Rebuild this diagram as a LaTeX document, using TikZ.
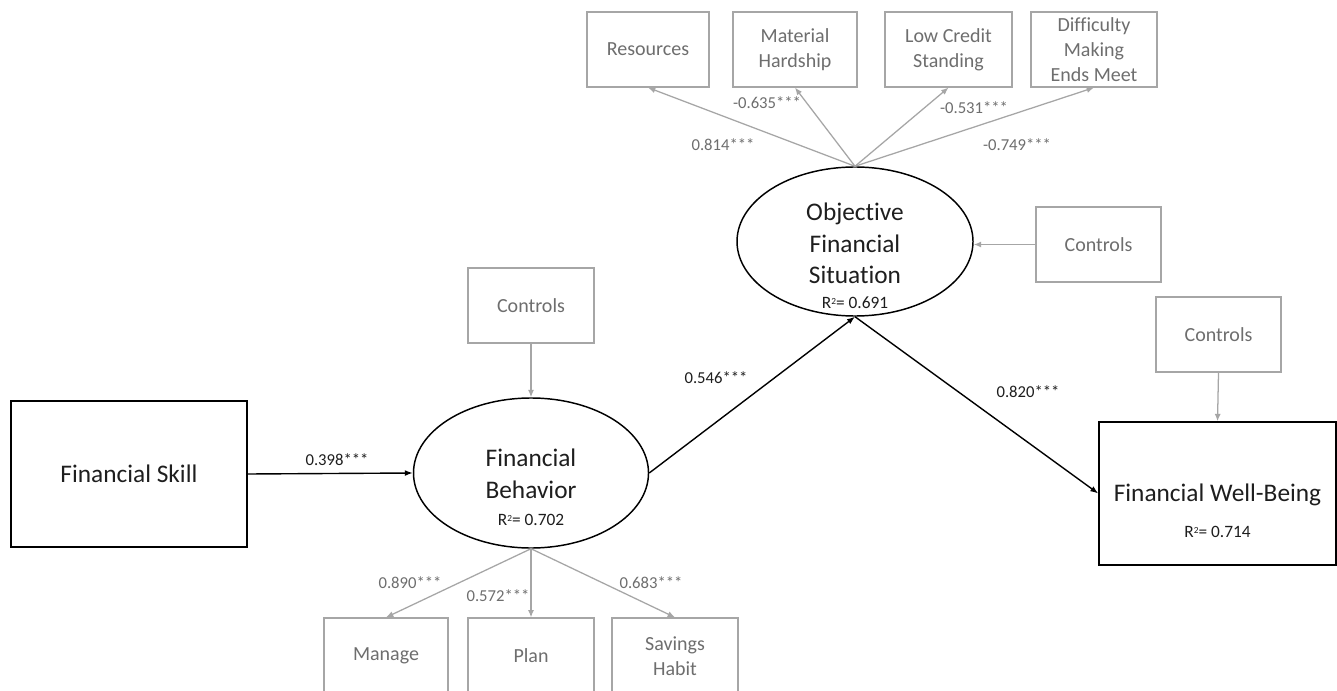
\documentclass[tikz,border=0pt]{standalone}
\usepackage{fontspec}
\setmainfont{Carlito}[Ligatures=NoCommon]
\usetikzlibrary{arrows.meta,shapes.geometric}
\definecolor{lg}{HTML}{A6A6A6}
\definecolor{gt}{HTML}{6E6E6E}
\definecolor{dk}{HTML}{1E1E1E}
\newcommand{\rsq}{R\raisebox{0.55ex}{\fontsize{7}{7}\selectfont 2}}
\begin{document}
\begin{tikzpicture}[x=0.75pt,y=-0.75pt,
  blackbox/.style={draw=black,line width=1.1pt,inner sep=0pt,rectangle,text=dk,align=center},
  graybox/.style={draw=lg,line width=0.9pt,inner sep=0pt,rectangle,text=gt,align=center,
     minimum height=56.25pt,font=\fontsize{15}{19}\selectfont},
  latent/.style={ellipse,draw=black,line width=1.1pt,inner sep=0pt},
  bigtext/.style={text=dk,font=\fontsize{19}{23}\selectfont},
  rtext/.style={text=dk,font=\fontsize{13}{15}\selectfont},
  coefb/.style={text=dk,font=\fontsize{12.5}{15}\selectfont},
  coefg/.style={text=gt,font=\fontsize{12.5}{15}\selectfont},
  barrow/.style={draw=black,line width=1.05pt,-{Latex[length=6pt,width=4.5pt]}},
  garrow/.style={draw=lg,line width=0.95pt,-{Latex[length=5.5pt,width=4.5pt]}}
]
\useasboundingbox (0,0) rectangle (1337,691);
\clip (0,0) rectangle (1337,691);
\fill[white] (0,0) rectangle (1337,691);

% main constructs
\node[blackbox,minimum width=177pt,minimum height=109.5pt,font=\fontsize{19}{23}\selectfont] (skill) at (129,474) {Financial Skill};
\node[latent,minimum width=176.25pt,minimum height=112.5pt] (fb) at (531,473) {};
\node[bigtext] (fbt1) at (531,458) {Financial};
\node[bigtext] (fbt2) at (531,490) {Behavior};
\node[rtext] (fbr) at (531,520) {\rsq= 0.702};

\node[latent,minimum width=177pt,minimum height=111.75pt] (ofs) at (855,241.5) {};
\node[bigtext] (ofst1) at (855,214) {Objective};
\node[bigtext] (ofst2) at (855,244) {Financial};
\node[bigtext] (ofst3) at (855,275) {Situation};
\node[rtext] (ofsr) at (855,303) {\rsq= 0.691};

\node[blackbox,minimum width=177.75pt,minimum height=107.25pt] (fwb) at (1217.5,493.5) {};
\node[bigtext] (fwbt) at (1217.5,495) {Financial Well-Being};
\node[rtext] (fwbr) at (1217.5,532) {\rsq= 0.714};

% controls
\node[graybox,minimum width=94.5pt] (c1) at (531,305.5) {Controls};
\node[graybox,minimum width=93.75pt] (c2) at (1098.5,244.5) {Controls};
\node[graybox,minimum width=93.75pt] (c3) at (1218.5,334.5) {Controls};

% indicators of objective financial situation
\node[graybox,minimum width=91.5pt] (res) at (648,49.5) {Resources};
\node[graybox,minimum width=93pt] (mh) at (795,49.5) {Material\\Hardship};
\node[graybox,minimum width=95.25pt] (lcs) at (948.5,49.5) {Low Credit\\Standing};
\node[graybox,minimum width=94.5pt] (dm) at (1094,49.5) {Difficulty\\Making\\Ends Meet};

% indicators of financial behavior
\node[graybox,minimum width=93pt,minimum height=57pt] (man) at (386,656) {Manage};
\node[graybox,minimum width=94.5pt,minimum height=57pt] (plan) at (531,656) {Plan};
\node[graybox,minimum width=94.5pt,minimum height=57pt] (sav) at (675,656) {Savings\\Habit};

% structural paths
\draw[barrow] (skill.east) -- (fb.west);
\draw[barrow] (fb.east) -- (ofs.south);
\draw[barrow] (ofs.south) -- (fwb.west);

% controls paths
\draw[garrow] (c1.south) -- (fb.north);
\draw[garrow] (c2.west) -- (c2.west -| ofs.east);
\draw[garrow] (c3.south) -- (fwb.north);

% loadings
\draw[garrow] (ofs.north) -- (res.south);
\draw[garrow] (ofs.north) -- (mh.south);
\draw[garrow] (ofs.north) -- (lcs.south);
\draw[garrow] (ofs.north) -- (dm.south);
\draw[garrow] (fb.south) -- (man.north);
\draw[garrow] (fb.south) -- (plan.north);
\draw[garrow] (fb.south) -- (sav.north);

% coefficients
\node[coefb] (k1) at (337,460) {0.398***};
\node[coefb] (k2) at (716,378) {0.546***};
\node[coefb] (k3) at (1028,392) {0.820***};
\node[coefg] (l1) at (723,145) {0.814***};
\node[coefg] (l2) at (767,103) {-0.635***};
\node[coefg] (l3) at (974,108) {-0.531***};
\node[coefg] (l4) at (1017,145) {-0.749***};
\node[coefg] (l5) at (410,583) {0.890***};
\node[coefg] (l6) at (498,596) {0.572***};
\node[coefg] (l7) at (651,583) {0.683***};
\end{tikzpicture}
\end{document}
